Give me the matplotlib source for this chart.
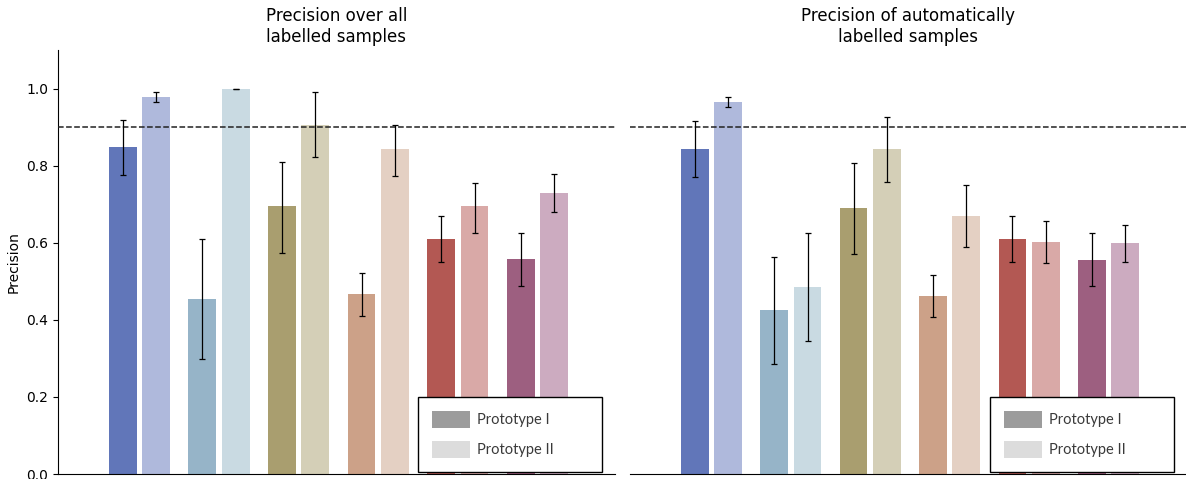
import matplotlib
matplotlib.use('Agg')
import matplotlib.pyplot as plt
from matplotlib.patches import Patch
import numpy as np

# ── Data ────────────────────────────────────────────────────────────
# six classes, two prototypes each (I = solid, II = light)
colors_p1 = ['#6176b9', '#96b4c8', '#a99e6f', '#cca188', '#b35853', '#9d5f80']
colors_p2 = ['#afb9dc', '#c9dae2', '#d4cfb7', '#e4d0c3', '#d9a9a7', '#ccabc0']

# Precision over all labelled samples
all_p1      = [0.849, 0.455, 0.694, 0.468, 0.610, 0.558]
all_p1_low  = [0.777, 0.299, 0.574, 0.410, 0.551, 0.488]
all_p1_high = [0.919, 0.610, 0.810, 0.522, 0.670, 0.626]
all_p2      = [0.977, 1.000, 0.906, 0.842, 0.694, 0.730]
all_p2_low  = [0.964, 0.998, 0.823, 0.774, 0.626, 0.681]
all_p2_high = [0.990, 1.000, 0.990, 0.906, 0.756, 0.779]

# Precision of automatically labelled samples
auto_p1      = [0.844, 0.426, 0.691, 0.462, 0.610, 0.556]
auto_p1_low  = [0.771, 0.286, 0.571, 0.408, 0.551, 0.488]
auto_p1_high = [0.917, 0.564, 0.808, 0.517, 0.670, 0.626]
auto_p2      = [0.964, 0.486, 0.842, 0.670, 0.603, 0.600]
auto_p2_low  = [0.951, 0.345, 0.758, 0.590, 0.548, 0.551]
auto_p2_high = [0.977, 0.626, 0.927, 0.751, 0.657, 0.647]

threshold = 0.9
titles = ['Precision over all\nlabelled samples',
          'Precision of automatically\nlabelled samples']
legend_labels = ['Prototype I', 'Prototype II']

# ── Plot ────────────────────────────────────────────────────────────
fig = plt.figure(figsize=(11.86, 4.79), dpi=100)
ax1 = fig.add_axes([58 / 1186, 5 / 479, 557 / 1186, 424 / 479])
ax2 = fig.add_axes([630 / 1186, 5 / 479, 556 / 1186, 424 / 479], sharey=ax1)

x = np.arange(len(colors_p1))
width = 0.35
off = 0.21

panels = [
    (ax1, all_p1, all_p1_low, all_p1_high, all_p2, all_p2_low, all_p2_high),
    (ax2, auto_p1, auto_p1_low, auto_p1_high, auto_p2, auto_p2_low, auto_p2_high),
]
legend_boxes = [(0.6463, 0.005, 0.3303, 0.2), (0.6475, 0.005, 0.331, 0.2)]

for i, (ax, p1, l1, h1, p2, l2, h2) in enumerate(panels):
    p1, l1, h1 = map(np.array, (p1, l1, h1))
    p2, l2, h2 = map(np.array, (p2, l2, h2))
    ax.bar(x - off, p1, width, color=colors_p1)
    ax.bar(x + off, p2, width, color=colors_p2)
    ax.axhline(threshold, color='#222222', linestyle='--', linewidth=1.1, zorder=3)
    ax.errorbar(x - off, p1, yerr=[p1 - l1, h1 - p1], fmt='none',
                ecolor='black', elinewidth=0.9, capsize=2.5, capthick=0.9, zorder=4)
    ax.errorbar(x + off, p2, yerr=[p2 - l2, h2 - p2], fmt='none',
                ecolor='black', elinewidth=0.9, capsize=2.5, capthick=0.9, zorder=4)

    ax.set_xlim(-1.025, 5.975)
    ax.set_ylim(0, 1.1)
    ax.set_xticks([])
    ax.set_title(titles[i], fontsize=12)
    ax.spines['top'].set_visible(False)
    ax.spines['right'].set_visible(False)

    handles = [Patch(facecolor='#9c9c9c'), Patch(facecolor='#dcdcdc')]
    leg = ax.legend(handles, legend_labels, loc='lower left',
                    bbox_to_anchor=legend_boxes[i], mode='expand',
                    borderaxespad=0, fancybox=False, framealpha=1,
                    edgecolor='black', borderpad=0.95, handlelength=2.6,
                    handleheight=1.4, handletextpad=0.5, labelspacing=0.9,
                    prop={'family': 'Lato', 'size': 10.5})
    leg.get_frame().set_linewidth(1.0)
    for t in leg.get_texts():
        t.set_color('#3a3a3a')
    leg.set_zorder(5)

ax1.set_yticks([0.0, 0.2, 0.4, 0.6, 0.8, 1.0])
ax1.set_ylabel('Precision', fontsize=10)
ax1.tick_params(axis='y', labelsize=10)

ax2.spines['left'].set_visible(False)
ax2.tick_params(axis='y', left=False, labelleft=False)

plt.savefig('out.png', dpi=100)
